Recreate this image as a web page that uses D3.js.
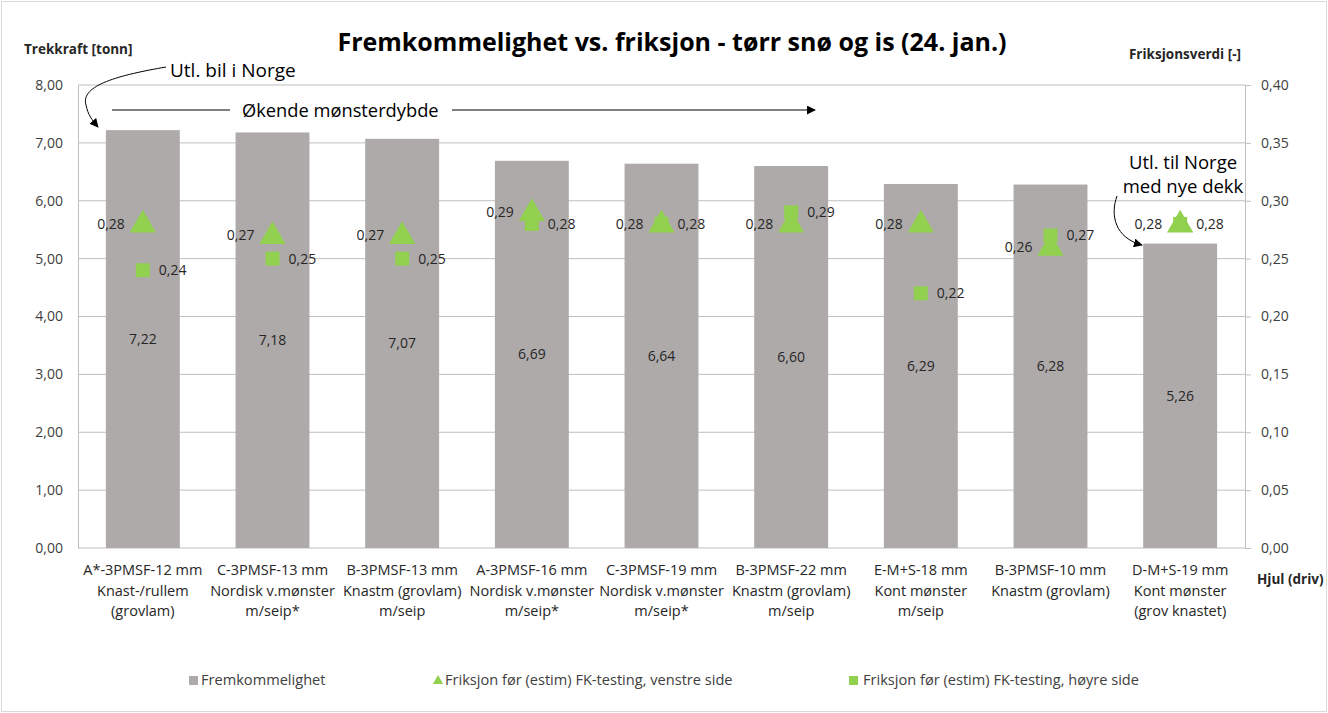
<!DOCTYPE html>
<html>
<head>
<meta charset="utf-8">
<script src="https://cdn.jsdelivr.net/npm/d3@7"></script>
<style>
  body { margin: 0; background: #fff; }
  svg { font-family: "Open Sans", Lato, sans-serif; }
</style>
</head>
<body>
<svg id="chart" width="1328" height="713"></svg>
<script>
const categories = [
  ["A*-3PMSF-12 mm", "Knast-/rullem", "(grovlam)"],
  ["C-3PMSF-13 mm", "Nordisk v.mønster", "m/seip*"],
  ["B-3PMSF-13 mm", "Knastm (grovlam)", "m/seip"],
  ["A-3PMSF-16 mm", "Nordisk v.mønster", "m/seip*"],
  ["C-3PMSF-19 mm", "Nordisk v.mønster", "m/seip*"],
  ["B-3PMSF-22 mm", "Knastm (grovlam)", "m/seip"],
  ["E-M+S-18 mm", "Kont mønster", "m/seip"],
  ["B-3PMSF-10 mm", "Knastm (grovlam)", ""],
  ["D-M+S-19 mm", "Kont mønster", "(grov knastet)"]
];
const trekkraft = [7.22, 7.18, 7.07, 6.69, 6.64, 6.60, 6.29, 6.28, 5.26];
const friksjonVenstre = [0.28, 0.27, 0.27, 0.29, 0.28, 0.28, 0.28, 0.26, 0.28];
const friksjonHoyre = [0.24, 0.25, 0.25, 0.28, 0.28, 0.29, 0.22, 0.27, 0.28];
const leftTicks = [0, 1, 2, 3, 4, 5, 6, 7, 8];
const rightTicks = [0, 0.05, 0.10, 0.15, 0.20, 0.25, 0.30, 0.35, 0.40];

const locale = d3.formatLocale({ decimal: ",", thousands: " ", grouping: [3], currency: ["", " kr"] });
const fmt = locale.format(".2f");

const green = "#92d050";
const barColor = "#aeaaaa";
const svg = d3.select("#chart");

const m = { left: 78, right: 1245, top: 85, bottom: 548 };

const x = d3.scaleBand().domain(d3.range(categories.length)).range([m.left, m.right]).paddingInner(0.43).paddingOuter(0.215);
const yL = d3.scaleLinear().domain([0, 8]).range([m.bottom, m.top]);
const yR = d3.scaleLinear().domain([0, 0.4]).range([m.bottom, m.top]);

// outer frame
svg.append("rect").attr("x", 1.5).attr("y", 1.5).attr("width", 1325).attr("height", 710)
  .attr("fill", "none").attr("stroke", "#d9d9d9");

// gridlines
svg.append("g").selectAll("line").data(leftTicks).join("line")
  .attr("x1", m.left).attr("x2", m.right)
  .attr("y1", d => yL(d)).attr("y2", d => yL(d))
  .attr("stroke", "#bfbfbf").attr("stroke-width", 1);

// left axis
const gL = svg.append("g").attr("transform", `translate(${m.left},0)`)
  .call(d3.axisLeft(yL).tickValues(leftTicks).tickFormat(fmt).tickSize(0).tickPadding(15));
gL.select(".domain").attr("stroke", "#bfbfbf");
gL.selectAll("text").attr("font-size", 14).attr("fill", "#404040").attr("font-family", "Open Sans");

// right axis
const gR = svg.append("g").attr("transform", `translate(${m.right},0)`)
  .call(d3.axisRight(yR).tickValues(rightTicks).tickFormat(fmt).tickSize(6).tickPadding(10));
gR.select(".domain").attr("stroke", "#bfbfbf");
gR.selectAll("line").attr("stroke", "#bfbfbf");
gR.selectAll("text").attr("font-size", 14).attr("fill", "#404040").attr("font-family", "Open Sans");

// bars
svg.append("g").selectAll("rect").data(trekkraft).join("rect")
  .attr("x", (d, i) => x(i)).attr("width", x.bandwidth())
  .attr("y", d => yL(d)).attr("height", d => yL(0) - yL(d))
  .attr("fill", barColor);

svg.append("g").selectAll("text").data(trekkraft).join("text")
  .attr("x", (d, i) => x(i) + x.bandwidth() / 2)
  .attr("y", d => (yL(d) + yL(0)) / 2 + 5)
  .attr("text-anchor", "middle").attr("font-size", 14).attr("fill", "#262626")
  .text(d => fmt(d));

// category labels
const cat = svg.append("g").selectAll("text").data(categories).join("text")
  .attr("text-anchor", "middle").attr("font-size", 14.5).attr("fill", "#262626");
cat.each(function (d, i) {
  const t = d3.select(this);
  d.forEach((line, j) => {
    t.append("tspan").attr("x", x(i) + x.bandwidth() / 2).attr("y", 575 + j * 20.5).text(line);
  });
});

const cx = i => x(i) + x.bandwidth() / 2;

// square markers (right side)
svg.append("g").selectAll("rect").data(friksjonHoyre).join("rect")
  .attr("x", (d, i) => cx(i) - 7).attr("y", d => yR(d) - 7)
  .attr("width", 14).attr("height", 14).attr("fill", green);
svg.append("g").selectAll("text").data(friksjonHoyre).join("text")
  .attr("x", (d, i) => cx(i) + 16).attr("y", d => yR(d) + 5)
  .attr("font-size", 14).attr("fill", "#262626").text(d => fmt(d));

// triangle markers (left side)
const tri = d3.symbol().type(d3.symbolTriangle).size(300);
svg.append("g").selectAll("path").data(friksjonVenstre).join("path")
  .attr("d", tri)
  .attr("transform", (d, i) => `translate(${cx(i)},${yR(d) + 1})`)
  .attr("fill", green);
svg.append("g").selectAll("text").data(friksjonVenstre).join("text")
  .attr("x", (d, i) => cx(i) - 18).attr("y", d => yR(d) + 5)
  .attr("text-anchor", "end").attr("font-size", 14).attr("fill", "#262626").text(d => fmt(d));

// titles
svg.append("text").attr("x", 672).attr("y", 51).attr("text-anchor", "middle")
  .attr("font-size", 25).attr("font-weight", "bold").attr("fill", "#000")
  .text("Fremkommelighet vs. friksjon - tørr snø og is (24. jan.)");
svg.append("text").attr("x", 24).attr("y", 54).attr("font-size", 13.5).attr("font-weight", "bold")
  .attr("fill", "#262626").text("Trekkraft [tonn]");
svg.append("text").attr("x", 1241).attr("y", 59).attr("text-anchor", "end").attr("font-size", 13.5)
  .attr("font-weight", "bold").attr("fill", "#262626").text("Friksjonsverdi [-]");
svg.append("text").attr("x", 1257).attr("y", 584).attr("font-size", 13.5).attr("font-weight", "bold")
  .attr("fill", "#262626").text("Hjul (driv)");

// annotations
const defs = svg.append("defs");
defs.append("marker").attr("id", "arr").attr("viewBox", "0 0 10 10").attr("refX", 9).attr("refY", 5)
  .attr("markerWidth", 9).attr("markerHeight", 9).attr("orient", "auto-start-reverse")
  .append("path").attr("d", "M0,0 L10,5 L0,10 z").attr("fill", "#000");

svg.append("text").attr("x", 170).attr("y", 77).attr("font-size", 19).attr("fill", "#000").text("Utl. bil i Norge");
svg.append("path").attr("d", "M166,67 C120,75 80,85 86,105 C88,115 92,120 98,127")
  .attr("fill", "none").attr("stroke", "#000").attr("stroke-width", 1).attr("marker-end", "url(#arr)");

svg.append("text").attr("x", 242).attr("y", 117).attr("font-size", 18.3).attr("fill", "#000").text("Økende mønsterdybde");
svg.append("line").attr("x1", 112).attr("x2", 230).attr("y1", 110).attr("y2", 110).attr("stroke", "#000");
svg.append("line").attr("x1", 452).attr("x2", 815).attr("y1", 110).attr("y2", 110).attr("stroke", "#000")
  .attr("marker-end", "url(#arr)");

svg.append("text").attr("x", 1183).attr("y", 169).attr("text-anchor", "middle").attr("font-size", 18.5).text("Utl. til Norge");
svg.append("text").attr("x", 1183).attr("y", 193).attr("text-anchor", "middle").attr("font-size", 18.5).text("med nye dekk");
svg.append("path").attr("d", "M1117,196 C1110,215 1115,238 1142,245")
  .attr("fill", "none").attr("stroke", "#000").attr("stroke-width", 1).attr("marker-end", "url(#arr)");

// legend
const legend = svg.append("g").attr("font-size", 14.6).attr("fill", "#404040");
legend.append("rect").attr("x", 189).attr("y", 676).attr("width", 9).attr("height", 9).attr("fill", barColor);
legend.append("text").attr("x", 201).attr("y", 685).text("Fremkommelighet");
legend.append("path").attr("d", d3.symbol().type(d3.symbolTriangle).size(45)).attr("transform", "translate(438,681)").attr("fill", green);
legend.append("text").attr("x", 445).attr("y", 685).text("Friksjon før (estim) FK-testing, venstre side");
legend.append("rect").attr("x", 849).attr("y", 676).attr("width", 9).attr("height", 9).attr("fill", green);
legend.append("text").attr("x", 863).attr("y", 685).text("Friksjon før (estim) FK-testing, høyre side");
</script>
</body>
</html>
